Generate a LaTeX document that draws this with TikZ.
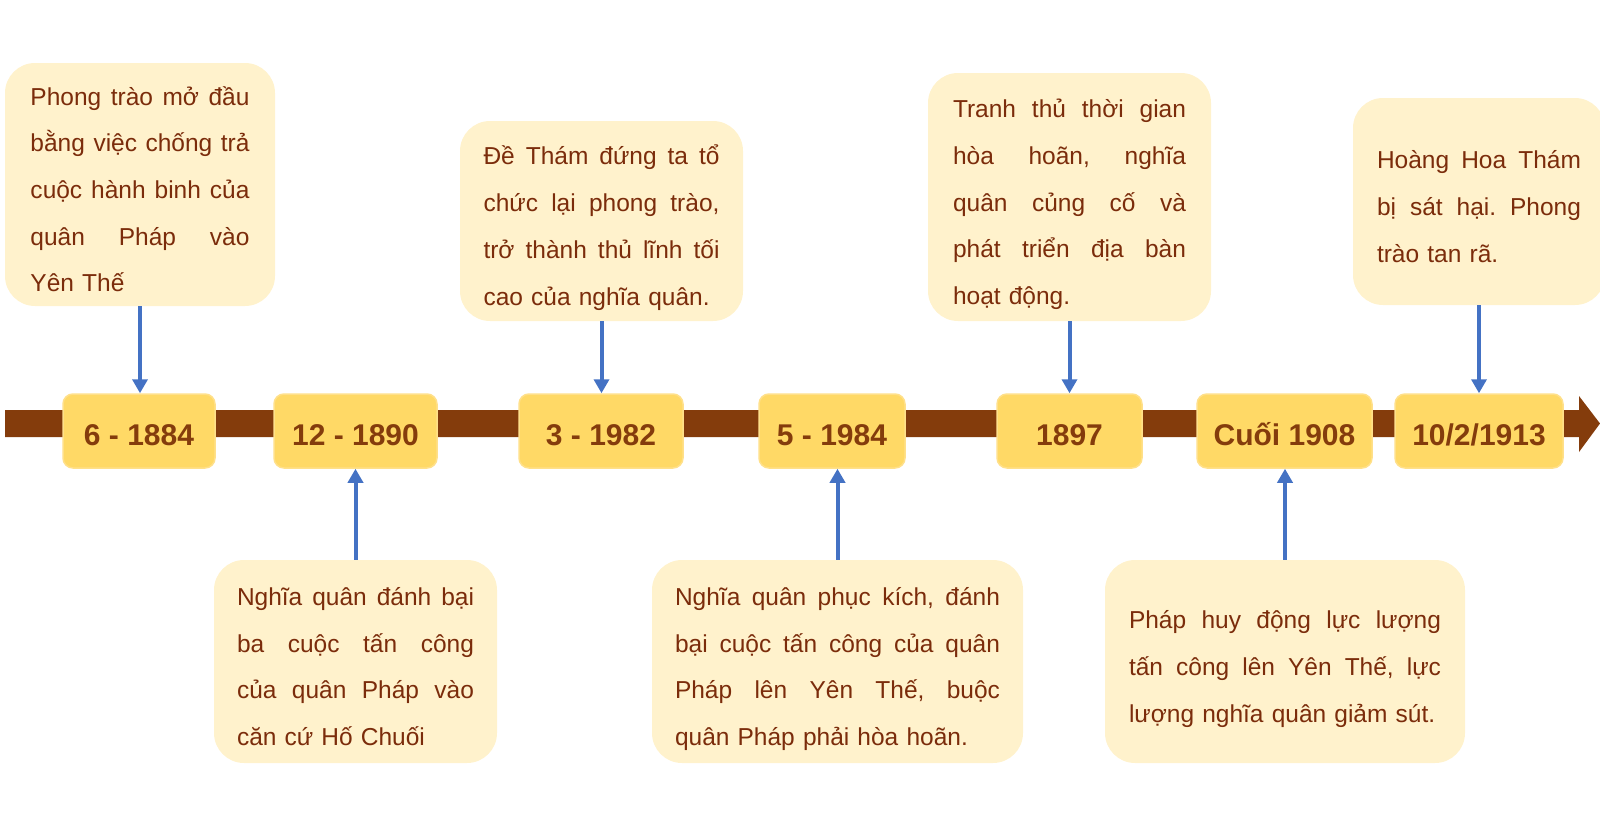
\documentclass[tikz,border=0pt]{standalone}
\usepackage{fontspec}
\setmainfont{Liberation Sans}
\usetikzlibrary{arrows.meta}
\frenchspacing
\definecolor{barbrown}{HTML}{843C0C}
\definecolor{dategold}{HTML}{FFD966}
\definecolor{dateedge}{HTML}{FFE08A}
\definecolor{notecream}{HTML}{FFF2CC}
\definecolor{notetext}{HTML}{7B2C0B}
\definecolor{linkblue}{HTML}{4472C4}
\newcommand\jl[1]{\makebox[\hsize][s]{\spaceskip=.28em plus 1fil\relax #1}\\}
\tikzset{
  datebox/.style={rectangle, rounded corners=10pt, fill=dategold, draw=dateedge,
    line width=1.5pt, minimum height=74pt, inner sep=0pt, text=barbrown,
    font=\fontsize{30pt}{36pt}\selectfont\bfseries, text height=28pt, text depth=0pt},
  notebox/.style={rectangle, rounded corners=30pt, fill=notecream, text=notetext,
    font=\fontsize{24.5pt}{46.7pt}\selectfont, align=left, inner ysep=0pt,
    execute at begin node={\rule{0pt}{36pt}}, execute at end node={\rule[-8pt]{0pt}{8pt}}},
  link/.style={draw=linkblue, line width=4pt, -{Triangle[width=15pt,length=14pt]}}
}
\begin{document}
\begin{tikzpicture}[x=1pt,y=-1pt]
    \useasboundingbox (0,0) rectangle (1600,819);
    \fill[barbrown] (5,410) -- (1579,410) -- (1579,396) -- (1600,423.5)
        -- (1579,452) -- (1579,437) -- (5,437) -- cycle;

    \foreach \x/\w/\t/\k in {139/152/6 - 1884/1,355.5/163/12 - 1890/2,601/164/3 - 1982/3,
        832/146/5 - 1984/4,1069.5/145/1897/5,1284.5/175/Cuối 1908/6,1479/168/{10/2/1913}/7}
        \node[datebox, minimum width=\w pt] (d\k) at (\x,431) {\t};

    \node[notebox, text width=219pt, inner xsep=25.5pt, minimum height=243pt] (t1) at (140,184.5)
        {\jl{Phong trào mở đầu}\jl{bằng việc chống trả}\jl{cuộc hành binh của}\jl{quân Pháp vào}\mbox{Yên Thế}};
    \node[notebox, text width=236pt, inner xsep=23.5pt, minimum height=200pt] (t2) at (601.5,221)
        {\jl{Đề Thám đứng ta tổ}\jl{chức lại phong trào,}\jl{trở thành thủ lĩnh tối}\mbox{cao của nghĩa quân.}};
    \node[notebox, text width=233pt, inner xsep=25pt, minimum height=248pt] (t3) at (1069.5,197)
        {\jl{Tranh thủ thời gian}\jl{hòa hoãn, nghĩa}\jl{quân củng cố và}\jl{phát triển địa bàn}\mbox{hoạt động.}};
    \node[notebox, text width=204pt, inner xsep=24pt, minimum height=207pt] (t4) at (1479,201.5)
        {\jl{Hoàng Hoa Thám}\jl{bị sát hại. Phong}\mbox{trào tan rã.}};

    \node[notebox, text width=237pt, inner xsep=23pt, minimum height=203pt] (b1) at (355.5,661.5)
        {\jl{Nghĩa quân đánh bại}\jl{ba cuộc tấn công}\jl{của quân Pháp vào}\mbox{căn cứ Hố Chuối}};
    \node[notebox, text width=325pt, inner xsep=23pt, minimum height=203pt] (b2) at (837.5,661.5)
        {\jl{Nghĩa quân phục kích, đánh}\jl{bại cuộc tấn công của quân}\jl{Pháp lên Yên Thế, buộc}\mbox{quân Pháp phải hòa hoãn.}};
    \node[notebox, text width=312pt, inner xsep=24pt, minimum height=203pt] (b3) at (1285,661.5)
        {\jl{Pháp huy động lực lượng}\jl{tấn công lên Yên Thế, lực}\mbox{lượng nghĩa quân giảm sút.}};

    \draw[link] (t1.south) -- (t1.south |- d1.north);
    \draw[link] (t2.south) -- (t2.south |- d3.north);
    \draw[link] (t3.south) -- (t3.south |- d5.north);
    \draw[link] (t4.south) -- (t4.south |- d7.north);
    \draw[link] (b1.north) -- (b1.north |- d2.south);
    \draw[link] (b2.north) -- (b2.north |- d4.south);
    \draw[link] (b3.north) -- (b3.north |- d6.south);
\end{tikzpicture}
\end{document}
